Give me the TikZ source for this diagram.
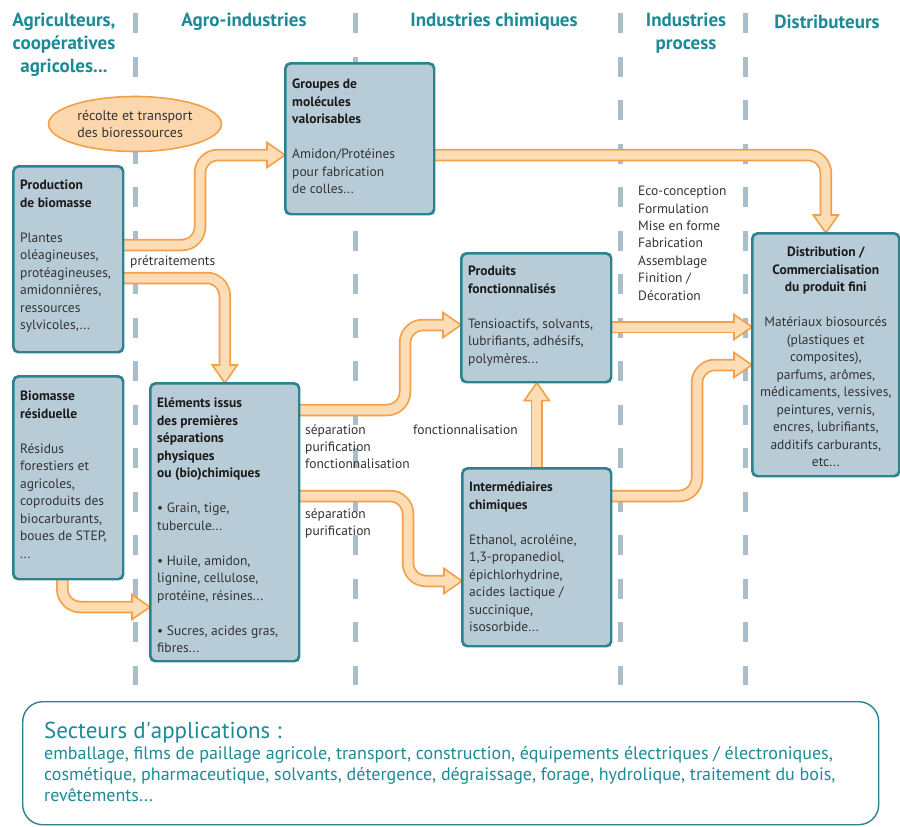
\documentclass[tikz,border=0pt]{standalone}
\usepackage{fontspec}
\setmainfont{PT Sans}
\usetikzlibrary{calc,shapes.geometric}
\definecolor{headc}{HTML}{1E8A96}
\definecolor{boxfill}{HTML}{B8CCD8}
\definecolor{boxdraw}{HTML}{2D8290}
\definecolor{orgdraw}{HTML}{F3A048}
\definecolor{orgfill}{HTML}{FDDDB5}
\definecolor{ellfill}{HTML}{FCD7AE}
\definecolor{dashc}{HTML}{A9BDCB}
\definecolor{titc}{HTML}{1A1A1A}
\definecolor{bodyc}{HTML}{333333}
\newcommand{\fatarrow}[3]{%
  \draw[arrout] #1 -- (#2);
  \filldraw[arrhead] (#3) -- ($(#2)!12.5pt!90:(#3)$) -- ($(#2)!12.5pt!-90:(#3)$) -- cycle;
  \draw[arrin] #1 -- ($(#2)!2.5pt!(#3)$);
}
\begin{document}
\begin{tikzpicture}[x=1pt,y=-1pt,
  dashline/.style={draw=dashc, line width=5pt, dash pattern=on 20pt off 23.5pt},
  header/.style={text=headc, font=\fontsize{19}{23}\selectfont\bfseries, align=center, inner sep=0pt},
  boxst/.style={draw=boxdraw, fill=boxfill, line width=1.6pt, rounded corners=5pt, anchor=north west, inner sep=0pt},
  boxtxt/.style={text=bodyc, font=\fontsize{13.5}{17.5}\selectfont, align=left, inner sep=0pt, anchor=north west},
  lbl/.style={text=bodyc, font=\fontsize{13.5}{17}\selectfont, align=left, inner sep=0pt, anchor=west},
  arrout/.style={draw=orgdraw, line width=12.5pt, rounded corners=18pt},
  arrin/.style={draw=orgfill, line width=9pt, rounded corners=18pt},
  arrhead/.style={draw=orgdraw, fill=orgfill, line width=1.6pt, line join=miter},
]
\useasboundingbox (0,0) rectangle (900,827);

% dashed column separators
\foreach \x in {135,355,620,745} \draw[dashline] (\x,13) -- (\x,685);

% headers
\node[header] (h1) at (64,45) {Agriculteurs,\\coopératives\\agricoles...};
\node[header] (h2) at (244,22) {Agro-industries};
\node[header] (h3) at (494,22) {Industries chimiques};
\node[header] (h4) at (686,33) {Industries\\process};
\node[header] (h5) at (827,22) {Distributeurs};

% ellipse
\node[ellipse, draw=orgdraw, fill=ellfill, line width=1.6pt, minimum width=173pt, minimum height=55pt, inner sep=0pt,
  text=bodyc, font=\fontsize{14}{17}\selectfont, align=left] (recolte) at (135,124) {récolte et transport\\des bioressources};

% boxes (shapes)
\node[boxst, minimum width=148pt, minimum height=150pt] (groupes) at (285,63) {};
\node[boxst, minimum width=109pt, minimum height=185pt] (prod) at (13,166) {};
\node[boxst, minimum width=109pt, minimum height=202pt] (resid) at (13,376) {};
\node[boxst, minimum width=148pt, minimum height=277pt] (elem) at (150,383) {};
\node[boxst, minimum width=149pt, minimum height=128pt] (produits) at (461,253) {};
\node[boxst, minimum width=148pt, minimum height=177pt] (inter) at (462,468) {};
\node[boxst, minimum width=146pt, minimum height=242pt] (distrib) at (752,233) {};

% arrows
\coordinate (A0) at (prod.east |- 0,245);
\coordinate (At) at (groupes.west |- 0,155);
\coordinate (Ab) at ($(At)+(-18,0)$);
\fatarrow{(A0) -- (200,245) -- (200,155)}{Ab}{At}

\coordinate (B0) at (prod.east |- 0,278);
\coordinate (Bt) at (elem.north);
\coordinate (Bb) at ($(Bt)+(0,-18)$);
\fatarrow{(B0) -- (Bt |- B0)}{Bb}{Bt}

\coordinate (C0) at (groupes.east |- At);
\coordinate (Ct) at (distrib.north);
\coordinate (Cb) at ($(Ct)+(0,-18)$);
\fatarrow{(C0) -- (Ct |- C0)}{Cb}{Ct}

\coordinate (D0) at (elem.east |- 0,410);
\coordinate (Dt) at (produits.west |- 0,325);
\coordinate (Db) at ($(Dt)+(-18,0)$);
\fatarrow{(D0) -- (405,410) -- (405,325)}{Db}{Dt}

\coordinate (E0) at (elem.east |- 0,496);
\coordinate (Et) at (inter.west |- 0,581);
\coordinate (Eb) at ($(Et)+(-18,0)$);
\fatarrow{(E0) -- (408,496) -- (408,581)}{Eb}{Et}

\coordinate (Ft) at (inter.north |- produits.south);
\coordinate (Fb) at ($(Ft)+(0,18)$);
\fatarrow{(inter.north)}{Fb}{Ft}

\coordinate (G0) at (produits.east |- 0,327);
\coordinate (Gt) at (distrib.west |- G0);
\coordinate (Gb) at ($(Gt)+(-18,0)$);
\fatarrow{(G0)}{Gb}{Gt}

\coordinate (H0) at (inter.east |- 0,496);
\coordinate (Ht) at (distrib.west |- 0,365);
\coordinate (Hb) at ($(Ht)+(-18,0)$);
\fatarrow{(H0) -- (697,496) -- (697,365)}{Hb}{Ht}

\coordinate (I0) at ($(resid.south)+(-6,0)$);
\coordinate (It) at (elem.west |- 0,607);
\coordinate (Ib) at ($(It)+(-18,0)$);
\fatarrow{(I0) -- (I0 |- It)}{Ib}{It}

% redraw box outlines on top of arrow ends
\foreach \b in {groupes,prod,resid,elem,produits,inter,distrib}
  \draw[draw=boxdraw, line width=1.6pt, rounded corners=5pt] (\b.north west) rectangle (\b.south east);

% box texts
\node[boxtxt] (groupesT) at ($(groupes.north west)+(7,16)$) {\textcolor{titc}{\bfseries Groupes de}\\\textcolor{titc}{\bfseries molécules}\\\textcolor{titc}{\bfseries valorisables}\\[17.5pt]Amidon/Protéines\\pour fabrication\\de colles...};
\node[boxtxt] (prodT) at ($(prod.north west)+(7,14)$) {\textcolor{titc}{\bfseries Production}\\\textcolor{titc}{\bfseries de biomasse}\\[17.5pt]Plantes\\oléagineuses,\\protéagineuses,\\amidonnières,\\ressources\\sylvicoles,...};
\node[boxtxt] (residT) at ($(resid.north west)+(7,15)$) {\textcolor{titc}{\bfseries Biomasse}\\\textcolor{titc}{\bfseries résiduelle}\\[17.5pt]Résidus\\forestiers et\\agricoles,\\coproduits des\\biocarburants,\\boues de STEP,\\...};
\node[boxtxt] (elemT) at ($(elem.north west)+(7,15)$) {\textcolor{titc}{\bfseries Eléments issus}\\\textcolor{titc}{\bfseries des premières}\\\textcolor{titc}{\bfseries séparations}\\\textcolor{titc}{\bfseries physiques}\\\textcolor{titc}{\bfseries ou (bio)chimiques}\\[17.5pt]• Grain, tige,\\tubercule...\\[17.5pt]• Huile, amidon,\\lignine, cellulose,\\protéine, résines...\\[17.5pt]• Sucres, acides gras,\\fibres...};
\node[boxtxt] (produitsT) at ($(produits.north west)+(7,13)$) {\textcolor{titc}{\bfseries Produits}\\\textcolor{titc}{\bfseries fonctionnalisés}\\[17.5pt]Tensioactifs, solvants,\\lubrifiants, adhésifs,\\polymères...};
\node[boxtxt] (interT) at ($(inter.north west)+(7,14)$) {\textcolor{titc}{\bfseries Intermédiaires}\\\textcolor{titc}{\bfseries chimiques}\\[17.5pt]Ethanol, acroléine,\\1,3-propanediol,\\épichlorhydrine,\\acides lactique /\\succinique,\\isosorbide...};
\node[boxtxt, align=center, anchor=north] (distribT) at ($(distrib.north)+(0,14)$) {\textcolor{titc}{\bfseries Distribution /}\\\textcolor{titc}{\bfseries Commercialisation}\\\textcolor{titc}{\bfseries du produit fini}\\[17.5pt]Matériaux biosourcés\\(plastiques et\\composites),\\parfums, arômes,\\médicaments, lessives,\\peintures, vernis,\\encres, lubrifiants,\\additifs carburants,\\etc...};

% labels
\node[lbl] (l1) at (130,262) {prétraitements};
\node[lbl, anchor=north west] (l2) at (305,425) {séparation\\purification\\fonctionnalisation};
\node[lbl] (l3) at (413,430) {fonctionnalisation};
\node[lbl, anchor=north west] (l4) at (305,509) {séparation\\purification};
\node[lbl, anchor=north west, font=\fontsize{13.5}{17.4}\selectfont] (eco) at (638,186) {Eco-conception\\Formulation\\Mise en forme\\Fabrication\\Assemblage\\Finition /\\Décoration};

% bottom box
\node[draw=boxdraw, fill=white, line width=1.4pt, rounded corners=20pt, minimum width=856pt, minimum height=123pt, anchor=north west, inner sep=0pt] (secteurs) at (22,701) {};
\node[text=headc, font=\fontsize{23}{27}\selectfont, inner sep=0pt, anchor=base west] (secT) at ($(secteurs.north west)+(22,37)$) {Secteurs d\textquotesingle applications :};
\node[text=headc, font=\fontsize{18}{21}\selectfont, inner sep=0pt, anchor=north west, align=left] (secB) at ($(secteurs.north west)+(22,45)$) {emballage, films de paillage agricole, transport, construction, équipements électriques / électroniques,\\cosmétique, pharmaceutique, solvants, détergence, dégraissage, forage, hydrolique, traitement du bois,\\revêtements...};
\end{tikzpicture}
\end{document}
